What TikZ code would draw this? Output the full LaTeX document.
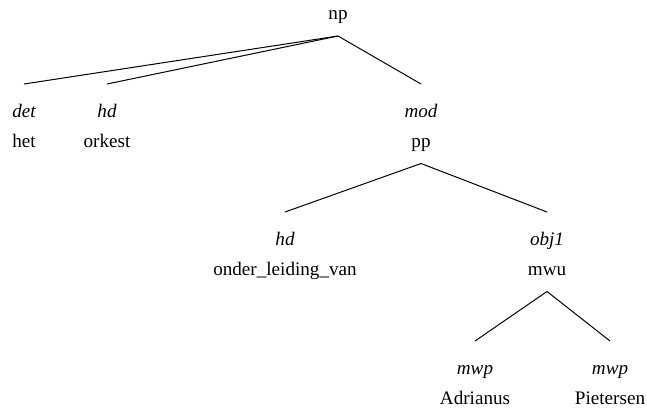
\documentclass[tikz,border=0pt]{standalone}
\usepackage{fontspec}
\setmainfont{Liberation Serif}

\begin{document}
\begin{tikzpicture}[x=1bp,y=-1bp,line width=1bp,
    every node/.style={anchor=base,inner sep=0pt,font=\fontsize{19.2}{23}\selectfont},
    rel/.style={font=\fontsize{19.2}{23}\selectfont\itshape}]
  \useasboundingbox (0,0) rectangle (647,409);
  % top
  \node (np) at (338,19.5) {np};
  \node[rel] (det) at (24,117) {det};
  \node (het) at (24,147) {het};
  \node[rel] (hd) at (107,117) {hd};
  \node (orkest) at (107,147) {orkest};
  \node[rel] (mod) at (421,117) {mod};
  \node (pp) at (421,147) {pp};
  % pp
  \node[rel] (hdpp) at (285,245) {hd};
  \node (olv) at (285,275) {onder\_leiding\_van};
  \node[rel] (obj) at (547,245) {obj1};
  \node (mwu) at (547,275) {mwu};
  % mwu
  \node[rel] (mwpa) at (475,374) {mwp};
  \node (adr) at (475,404) {Adrianus};
  \node[rel] (mwpb) at (610,374) {mwp};
  \node (pie) at (610,404) {Pietersen};
  \draw ([yshift=-16.5bp]np.base) -- ([yshift=33bp]det.base);
  \draw ([yshift=-16.5bp]np.base) -- ([yshift=33bp]hd.base);
  \draw ([yshift=-16.5bp]np.base) -- ([yshift=33bp]mod.base);
  \draw ([yshift=-16.5bp]pp.base) -- ([yshift=33bp]hdpp.base);
  \draw ([yshift=-16.5bp]pp.base) -- ([yshift=33bp]obj.base);
  \draw ([yshift=-16.5bp]mwu.base) -- ([yshift=33bp]mwpa.base);
  \draw ([yshift=-16.5bp]mwu.base) -- ([yshift=33bp]mwpb.base);
\end{tikzpicture}
\end{document}
